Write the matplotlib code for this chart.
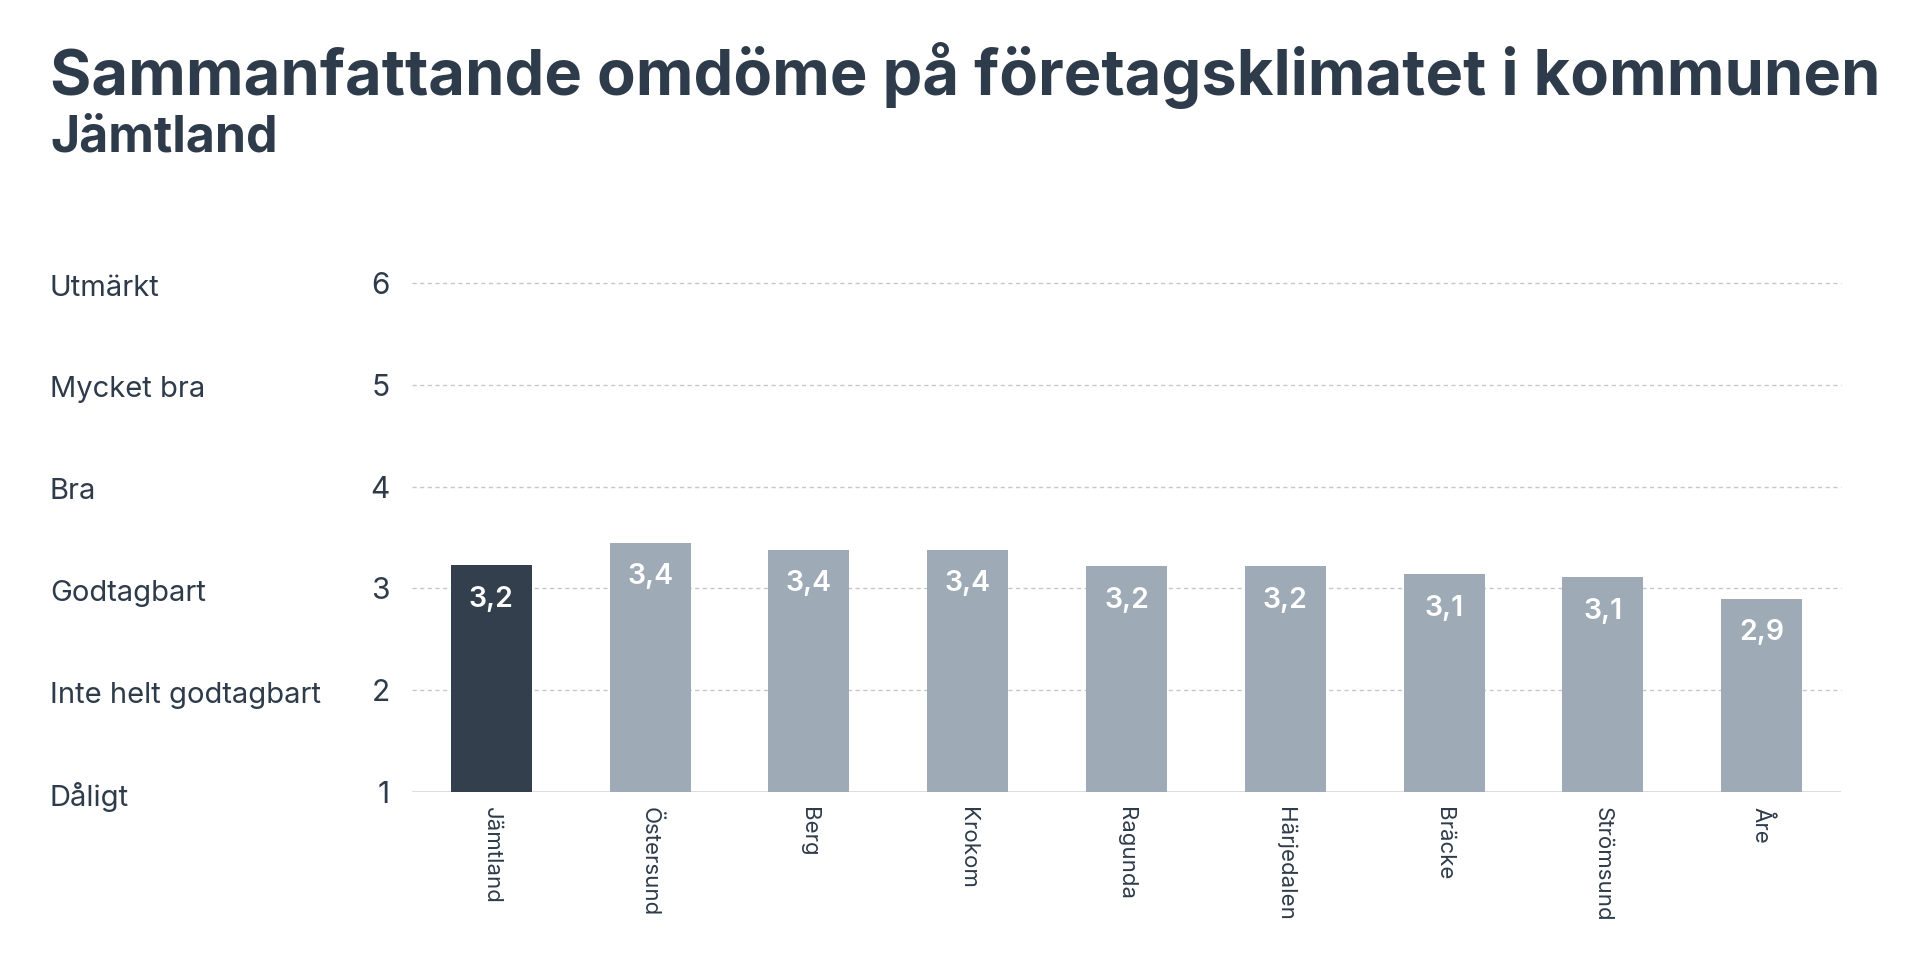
import matplotlib
matplotlib.use("Agg")
import matplotlib.pyplot as plt
import matplotlib.transforms as mtransforms

plt.rcParams["font.family"] = ["Inter", "DejaVu Sans"]

title = "Sammanfattande omdöme på företagsklimatet i kommunen"
subtitle = "Jämtland"

municipalities = ["Jämtland", "Östersund", "Berg", "Krokom", "Ragunda",
                  "Härjedalen", "Bräcke", "Strömsund", "Åre"]
scores = [3.23, 3.45, 3.38, 3.38, 3.22, 3.22, 3.14, 3.11, 2.90]
score_labels = ["3,2", "3,4", "3,4", "3,4", "3,2", "3,2", "3,1", "3,1", "2,9"]

scale_values = [1, 2, 3, 4, 5, 6]
scale_names = ["Dåligt", "Inte helt godtagbart", "Godtagbart", "Bra",
               "Mycket bra", "Utmärkt"]

text_color = "#2e3b4a"
dark_bar = "#333f4d"
light_bar = "#9eaab5"
grid_color = "#c4c8cc"

W, H = 1920, 980
fig = plt.figure(figsize=(W / 100, H / 100), dpi=100)
ax = fig.add_axes([412 / W, 1 - 792 / H, (1841 - 412) / W, (792 - 283) / H])

colors = [dark_bar] + [light_bar] * (len(municipalities) - 1)
x = range(len(municipalities))
ax.bar(x, [s - 1 for s in scores], bottom=1, width=0.51, color=colors, zorder=3)

for xi, s, lab in zip(x, scores, score_labels):
    ax.annotate(lab, (xi, s), xytext=(0, -24.5), textcoords="offset points",
                ha="center", va="center", color="white", fontsize=20.5,
                fontweight="semibold", zorder=4)

ax.set_xlim(-0.5, len(municipalities) - 0.5)
ax.set_ylim(1, 6)

for v in scale_values[1:]:
    ax.axhline(v, color=grid_color, linestyle=(0, (3, 2.5)), linewidth=1, zorder=1, clip_on=False)
ax.axhline(1, color="#d3d8dd", linewidth=1.2, zorder=2)

for s in ax.spines.values():
    s.set_visible(False)

ax.set_xticks(list(x))
ax.set_xticklabels(municipalities, rotation=270, fontsize=16, color=text_color,
                   va="top", ha="center")
ax.tick_params(axis="x", length=0, pad=11)
ax.set_yticks(scale_values)
ax.set_yticklabels([str(v) for v in scale_values], fontsize=21.5, color=text_color)
ax.tick_params(axis="y", length=0, pad=16)

trans = mtransforms.blended_transform_factory(fig.transFigure, ax.transData)
trans = trans + mtransforms.ScaledTranslation(0, -5 / 100, fig.dpi_scale_trans)
for v, name in zip(scale_values, scale_names):
    ax.text(50 / W, v, name, transform=trans, ha="left", va="center",
            fontsize=21, color=text_color, clip_on=False)

fig.text(50 / W, 1 - 95 / H, title, ha="left", va="baseline", fontsize=45.5,
         fontweight="bold", color=text_color)
fig.text(50 / W, 1 - 151 / H, subtitle, ha="left", va="baseline", fontsize=36,
         fontweight="bold", color=text_color)

fig.savefig("out.png", dpi=100, facecolor="white")
